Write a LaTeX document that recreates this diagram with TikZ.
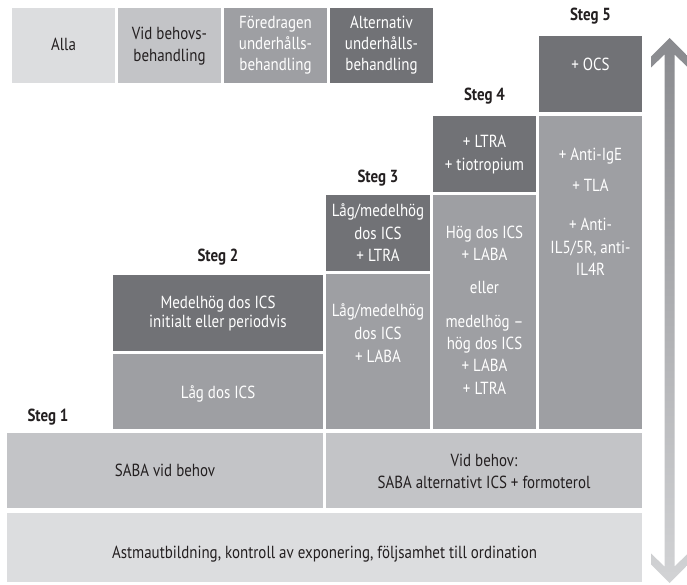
\documentclass[tikz,border=0pt]{standalone}
\usepackage{fontspec}
\setmainfont{PT Sans}[FakeStretch=0.855]
\definecolor{cA}{HTML}{DCDDDF}
\definecolor{cB}{HTML}{C3C4C7}
\definecolor{cC}{HTML}{9E9FA3}
\definecolor{cD}{HTML}{717276}
\definecolor{tx}{HTML}{231F20}
\definecolor{arT}{HTML}{898A8E}
\definecolor{arB}{HTML}{D2D3D5}
\tikzset{
  boxbase/.style={draw=none, inner sep=0pt, outer sep=0pt},
  lightbox/.style={boxbase, fill=cA},
  midlight/.style={boxbase, fill=cB},
  middark/.style={boxbase, fill=cC},
  darkbox/.style={boxbase, fill=cD},
  txtbase/.style={inner sep=0pt, anchor=base, font=\fontsize{17.5}{21}\selectfont},
  dtxt/.style={txtbase, text=tx},
  wtxt/.style={txtbase, text=white},
  stegtxt/.style={inner sep=0pt, anchor=base, text=tx, font=\fontsize{17.5}{20}\selectfont\bfseries},
}
\newcommand\bx[6]{\node[#6, minimum width={#4-#2}, minimum height={#5-#3}] (#1) at ({(#2+#4)/2},{(#3+#5)/2}) {};}
\newcommand\tl[5]{\node[#4] (#1) at (#2,#3) {#5};}
\begin{document}
\begin{tikzpicture}[x=1pt,y=-1pt]
\useasboundingbox[fill=white] (0,0) rectangle (687,585);
% legend
\bx{alla}{12}{8}{115}{83}{lightbox}
\bx{vid}{118}{8}{221}{83}{midlight}
\bx{fore}{224}{8}{327}{83}{middark}
\bx{alt}{330}{8}{433}{83}{darkbox}
\tl{allat}{63.5}{51}{dtxt}{Alla}
\tl{vidt1}{169.5}{40}{dtxt}{Vid behovs-}
\tl{vidt2}{169.5}{62}{dtxt}{behandling}
\tl{foret1}{275.5}{29}{wtxt}{Föredragen}
\tl{foret2}{275.5}{50}{wtxt}{underhålls-}
\tl{foret3}{275.5}{71}{wtxt}{behandling}
\tl{altt1}{381.5}{29}{wtxt}{Alternativ}
\tl{altt2}{381.5}{50}{wtxt}{underhålls-}
\tl{altt3}{381.5}{71}{wtxt}{behandling}
% step 5
\tl{steg5}{590.5}{21}{stegtxt}{Steg 5}
\bx{ocs}{539}{36}{642}{112}{darkbox}
\tl{ocst}{590.5}{71}{wtxt}{+ OCS}
\bx{s5}{539}{116}{642}{429}{middark}
\tl{s5a}{590.5}{161}{wtxt}{+ Anti-IgE}
\tl{s5b}{590.5}{192}{wtxt}{+ TLA}
\tl{s5c}{590.5}{230}{wtxt}{+ Anti-}
\tl{s5d}{590.5}{253}{wtxt}{IL5/5R, anti-}
\tl{s5e}{590.5}{275}{wtxt}{IL4R}
% step 4
\tl{steg4}{484.5}{101}{stegtxt}{Steg 4}
\bx{s4u}{433}{116}{536}{192}{darkbox}
\tl{s4ua}{484.5}{148}{wtxt}{+ LTRA}
\tl{s4ub}{484.5}{171}{wtxt}{+ tiotropium}
\bx{s4l}{433}{195}{536}{429}{middark}
\tl{s4la}{484.5}{238}{wtxt}{Hög dos ICS}
\tl{s4lb}{484.5}{260}{wtxt}{+ LABA}
\tl{s4lc}{484.5}{293}{wtxt}{eller}
\tl{s4ld}{484.5}{327}{wtxt}{medelhög –}
\tl{s4le}{484.5}{349}{wtxt}{hög dos ICS}
\tl{s4lf}{484.5}{371}{wtxt}{+ LABA}
\tl{s4lg}{484.5}{394}{wtxt}{+ LTRA}
% step 3
\tl{steg3}{378}{183}{stegtxt}{Steg 3}
\bx{s3u}{326}{195}{430}{271}{darkbox}
\tl{s3ua}{378}{217}{wtxt}{Låg/medelhög}
\tl{s3ub}{378}{239}{wtxt}{dos ICS}
\tl{s3uc}{378}{261}{wtxt}{+ LTRA}
\bx{s3l}{326}{274}{430}{429}{middark}
\tl{s3la}{378}{316}{wtxt}{Låg/medelhög}
\tl{s3lb}{378}{339}{wtxt}{dos ICS}
\tl{s3lc}{378}{362}{wtxt}{+ LABA}
% step 2
\tl{steg2}{218}{261}{stegtxt}{Steg 2}
\bx{s2u}{113}{275}{323}{351}{darkbox}
\tl{s2ua}{218}{308}{wtxt}{Medelhög dos ICS}
\tl{s2ub}{218}{327}{wtxt}{initialt eller periodvis}
\bx{s2l}{113}{354}{323}{429}{middark}
\tl{s2la}{218}{398}{wtxt}{Låg dos ICS}
% step 1
\tl{steg1}{48}{421}{stegtxt}{Steg 1}
\bx{saba}{7}{433}{323}{508}{midlight}
\tl{sabat}{165}{476}{dtxt}{SABA vid behov}
\bx{vb}{326}{433}{642}{508}{midlight}
\tl{vbt1}{484}{466}{dtxt}{Vid behov:}
\tl{vbt2}{484}{488}{dtxt}{SABA alternativt ICS + formoterol}
\bx{astma}{7}{513}{642}{582}{lightbox}
\tl{astmat}{324.5}{558}{dtxt}{Astmautbildning, kontroll av exponering, följsamhet till ordination}
% double arrow
\shade[top color=arT, bottom color=arB]
  (669.5,38) -- (651,56.5) -- (651,67.5) -- (664.5,54.5) -- (664.5,566.5)
  -- (651,553.5) -- (651,564.5) -- (669.5,583) -- (688,564.5) -- (688,553.5)
  -- (674.5,566.5) -- (674.5,54.5) -- (688,67.5) -- (688,56.5) -- cycle;
\end{tikzpicture}
\end{document}
